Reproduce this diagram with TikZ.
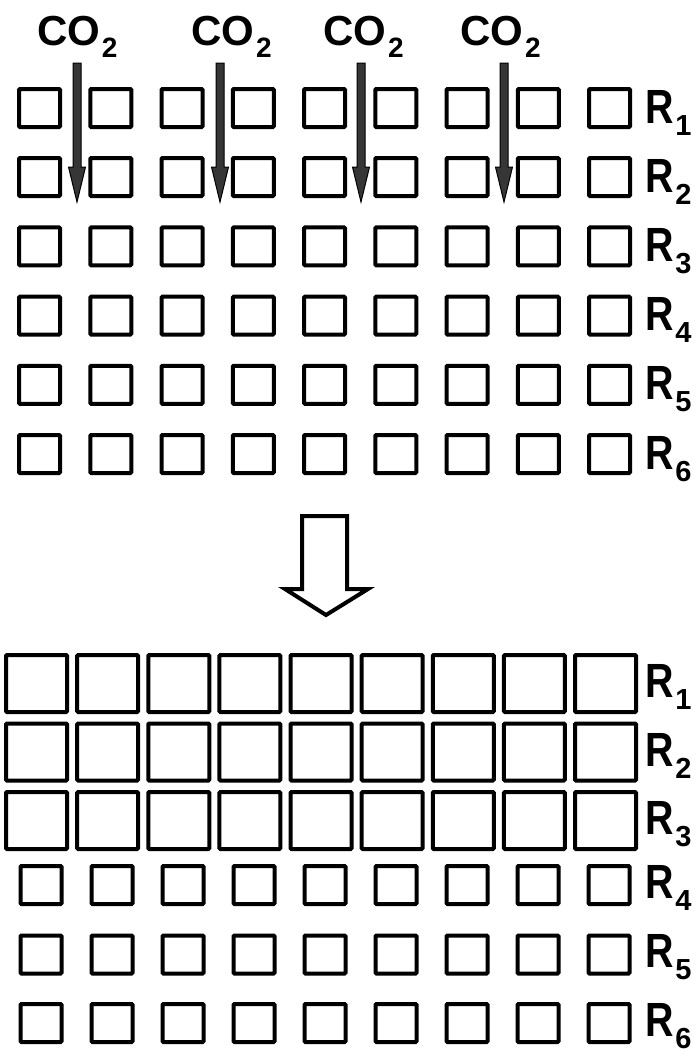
\documentclass[tikz,border=0pt]{standalone}
\usepackage{fontspec}
\setmainfont{Liberation Sans}
\usetikzlibrary{calc}

\definecolor{shaftgray}{HTML}{363636}

% chemical and row labels
\newcommand{\cotwo}{{\fontsize{42}{42}\selectfont\bfseries CO\kern2pt\raisebox{-12pt}{\fontsize{28}{28}\selectfont 2}}}
\newcommand{\rowlab}[1]{{\bfseries\scalebox{0.82}[1]{\fontsize{48}{48}\selectfont R}\kern2pt\raisebox{-12pt}{\fontsize{29}{29}\selectfont #1}}}

\tikzset{
  cellsmall/.style={draw=black, line width=4pt, minimum width=41pt, minimum height=38pt,
                    inner sep=0pt, rounded corners=1pt},
  cellbig/.style={draw=black, line width=4pt, minimum width=61pt, minimum height=57pt,
                  inner sep=0pt, rounded corners=1pt},
  gaslabel/.style={anchor=base west, inner sep=0pt, outer sep=0pt},
  rlabel/.style={anchor=base west, inner sep=0pt, outer sep=0pt},
  co2arrow/.style={fill=shaftgray, draw=black, line width=1pt, line join=miter},
  steparrow/.style={draw=black, fill=white, line width=4pt, line join=miter}
}

\begin{document}
\begin{tikzpicture}[x=1pt, y=-1pt]
\useasboundingbox (0,0) rectangle (699,1053);

% ---- upper grid: six rows of small cells ----
\foreach \r/\yc in {1/108, 2/177, 3/246.4, 4/315.6, 5/384.8, 6/454} {
  \foreach \c in {1,...,9} {
    \node[cellsmall] (u-\r-\c) at ({39.5 + 71.25*(\c-1)}, \yc) {};
  }
  \node[rlabel] (ur-\r) at (645, \yc+15) {\rowlab{\r}};
}

% ---- CO2 labels and the arrows going down into the grid ----
\foreach \k/\xl/\xa in {1/37/77, 2/191/220, 3/323/361, 4/460/504} {
  \node[gaslabel] (gas-\k) at (\xl, 45) {\cotwo};
  \coordinate (in-\k) at (\xa, 63);
  \path[co2arrow, shift={(in-\k)}]
    (-4,0) -- (4,0) -- (4,104) -- (8.5,104) -- (0,139) -- (-8.5,104) -- (-4,104) -- cycle;
}

% ---- hollow arrow between the two states ----
\coordinate (step) at (324.5, 516);
\path[steparrow, shift={(step)}]
  (-22.5,0) -- (22.5,0) -- (22.5,73) -- (43.5,73) -- (1.5,99) -- (-39.5,73) -- (-22.5,73) -- cycle;

% ---- lower grid: three rows of grown cells ----
\foreach \r/\yc in {1/683.5, 2/752, 3/820.5} {
  \foreach \c in {1,...,9} {
    \node[cellbig] (b-\r-\c) at ({36.5 + 71.125*(\c-1)}, \yc) {};
  }
  \node[rlabel] (br-\r) at (645, \yc+14) {\rowlab{\r}};
}

% ---- lower grid: three rows of unchanged cells ----
\foreach \r/\yc in {4/885, 5/954.5, 6/1023} {
  \foreach \c in {1,...,9} {
    \node[cellsmall] (l-\r-\c) at ({41 + 71*(\c-1)}, \yc) {};
  }
  \node[rlabel] (lr-\r) at (645, \yc+13) {\rowlab{\r}};
}
\end{tikzpicture}
\end{document}
